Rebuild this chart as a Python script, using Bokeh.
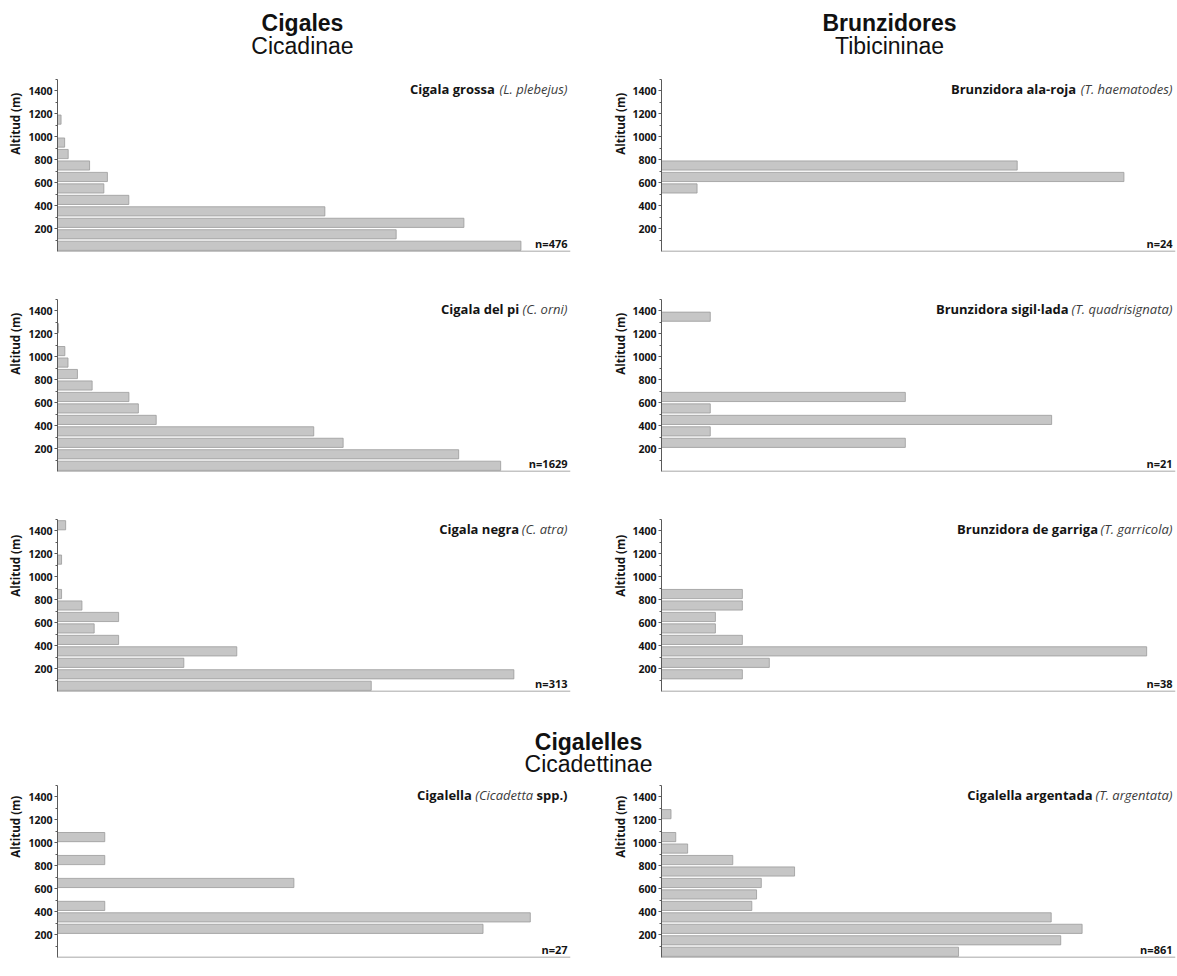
import math
from bokeh.plotting import figure
from bokeh.models import Range1d, FixedTicker, Label, Span, ColumnDataSource
from bokeh.layouts import column, row
from bokeh.embed import file_html
from bokeh.resources import INLINE

# ---------------- data: number of records per 100 m altitude band ----------------
band_lo = [0, 100, 200, 300, 400, 500, 600, 700, 800, 900, 1000, 1100, 1200, 1300, 1400]
major_ticks = [200, 400, 600, 800, 1000, 1200, 1400]
minor_ticks = [100, 300, 500, 700, 900, 1100, 1300, 1500]

cigala_grossa = [130, 95, 114, 75, 20, 13, 14, 9, 3, 2, 0, 1, 0, 0, 0]
cigala_del_pi = [422, 382, 272, 244, 94, 77, 68, 33, 19, 10, 7, 0, 1, 0, 0]
cigala_negra = [77, 112, 31, 44, 15, 9, 15, 6, 1, 0, 0, 1, 0, 0, 2]
brunz_ala_roja = [0, 0, 0, 0, 0, 1, 13, 10, 0, 0, 0, 0, 0, 0, 0]
brunz_sigillada = [0, 0, 5, 1, 8, 1, 5, 0, 0, 0, 0, 0, 0, 1, 0]
brunz_garriga = [0, 3, 4, 18, 3, 2, 2, 3, 3, 0, 0, 0, 0, 0, 0]
cigalella_spp = [0, 0, 9, 10, 1, 0, 5, 0, 1, 0, 1, 0, 0, 0, 0]
cigalella_argentada = [125, 168, 177, 164, 38, 40, 42, 56, 30, 11, 6, 0, 4, 0, 0]

group_titles = [("Cigales", "Cicadinae"), ("Brunzidores", "Tibicininae"), ("Cigalelles", "Cicadettinae")]
y_title = "Altitud (m)"

# ---------------- styles ----------------
FONT = "Open Sans"
TITLE_FONT = "Liberation Sans"
BAR_FILL = "#c6c6c6"
BAR_LINE = "#9a9a9a"
TXT = "#141414"
ITAL = "#3c3c3c"

REG_W = {' ': 0.26, '(': 0.295, ')': 0.295, '.': 0.266, '-': 0.32, 'a': 0.556, 'b': 0.613, 'c': 0.476,
         'd': 0.613, 'e': 0.561, 'f': 0.339, 'g': 0.548, 'h': 0.614, 'i': 0.253, 'j': 0.253, 'k': 0.525,
         'l': 0.253, 'm': 0.930, 'n': 0.614, 'o': 0.604, 'p': 0.613, 'q': 0.613, 'r': 0.408, 's': 0.477,
         't': 0.353, 'u': 0.614, 'v': 0.501, 'w': 0.778, 'x': 0.524, 'y': 0.502, 'z': 0.477,
         'C': 0.633, 'L': 0.519, 'T': 0.541}
BOLD_W = {' ': 0.26, '(': 0.34, ')': 0.34, '.': 0.29, 's': 0.513, 'p': 0.635}


def text_w(s, size, table, scale=1.0):
    return sum(table.get(c, 0.55) for c in s) * size * scale


SP_SIZE = 13
FRAME_H = 172
PX_PER_M = FRAME_H / 1500.0

LAB_W = {"L": 24, "R": 18}
LAB_X = {"L": 15, "R": 10}


def blank(w, h):
    f = figure(width=w, height=h, x_range=Range1d(0, w), y_range=Range1d(h, 0),
               output_backend="svg", toolbar_location=None, x_axis_location=None,
               y_axis_location=None, min_border=0)
    f.outline_line_color = None
    f.grid.visible = False
    f.background_fill_color = None
    f.border_fill_color = None
    return f


def ylabel_fig(side, fig_h, top_border):
    f = blank(LAB_W[side], fig_h)
    f.add_layout(Label(x=LAB_X[side], y=top_border + 1, text=y_title, angle=math.pi / 2,
                       text_align="right", text_baseline="middle", text_font=FONT,
                       text_font_style="bold", text_font_size="11.5px", text_color=TXT))
    return f


def panel(bold, italic, tail, counts, x_max, side, bottom_border, fig_h, top_border=16):
    left = side == "L"
    w = (610 if left else 567) - LAB_W[side]
    mbl = (57 if left else 51) - LAB_W[side]
    mbr = 40 if left else 2
    fw = w - mbl - mbr
    p = figure(width=w, height=fig_h, x_range=Range1d(0, x_max), y_range=Range1d(0, 1500),
               output_backend="svg", toolbar_location=None, x_axis_location=None,
               min_border_left=mbl, min_border_right=mbr, min_border_top=top_border,
               min_border_bottom=bottom_border)
    p.outline_line_color = None
    p.grid.visible = False
    p.background_fill_color = None
    p.border_fill_color = None

    ys = [lo + 50 for lo, c in zip(band_lo, counts) if c > 0]
    vals = [c for c in counts if c > 0]
    src = ColumnDataSource(dict(y=ys, right=vals))
    p.hbar(y="y", left=0, right="right", height=80, source=src,
           fill_color=BAR_FILL, line_color=BAR_LINE, line_width=0.8)

    ax = p.yaxis[0]
    ax.ticker = FixedTicker(ticks=major_ticks, minor_ticks=minor_ticks)
    ax.major_label_text_font = FONT
    ax.major_label_text_font_style = "bold"
    ax.major_label_text_font_size = "10.5px"
    ax.major_label_text_color = TXT
    ax.major_label_standoff = 2
    ax.major_tick_out = 3
    ax.major_tick_in = 0
    ax.minor_tick_out = 2
    ax.minor_tick_in = 0
    ax.axis_line_color = "#5a5a5a"
    ax.major_tick_line_color = "#5a5a5a"
    ax.minor_tick_line_color = "#5a5a5a"

    p.add_layout(Span(location=0, dimension="width", line_color="#8a8a8a", line_width=1.5))

    k = fw / x_max
    x_r = x_max - 3 / k
    y_t = 1500 - 9 / PX_PER_M
    cur = x_r
    if tail:
        t = tail.strip()
        p.add_layout(Label(x=cur, y=y_t, text=t, text_align="right", text_baseline="middle",
                           text_font=FONT, text_font_style="bold", text_font_size=f"{SP_SIZE}px",
                           text_color=TXT))
        cur -= (text_w(t, SP_SIZE, BOLD_W) + 0.24 * SP_SIZE) / k
    p.add_layout(Label(x=cur, y=y_t, text=italic, text_align="right", text_baseline="middle",
                       text_font=FONT, text_font_style="italic", text_font_size=f"{SP_SIZE}px",
                       text_color=ITAL))
    cur -= (text_w(italic, SP_SIZE, REG_W, 0.96) + 0.24 * SP_SIZE) / k
    p.add_layout(Label(x=cur, y=y_t, text=bold, text_align="right", text_baseline="middle",
                       text_font=FONT, text_font_style="bold", text_font_size=f"{SP_SIZE}px",
                       text_color=TXT))

    p.add_layout(Label(x=x_r, y=8 / PX_PER_M, text=f"n={sum(counts)}", text_align="right",
                       text_baseline="middle", text_font=FONT, text_font_style="bold",
                       text_font_size="11px", text_color=TXT))
    return [ylabel_fig(side, fig_h, top_border), p]


def header(h, items):
    f = blank(1177, h)
    for (x, y, txt, style) in items:
        f.add_layout(Label(x=x, y=y, text=txt, text_align="center", text_baseline="middle",
                           text_font=TITLE_FONT, text_font_style=style, text_font_size="23px",
                           text_color="#111111"))
    return f


hA = header(63, [(302, 22, group_titles[0][0], "bold"), (302, 45, group_titles[0][1], "normal"),
                 (889, 22, group_titles[1][0], "bold"), (889, 45, group_titles[1][1], "normal")])
hB = header(82, [(588, 48, group_titles[2][0], "bold"), (588, 70, group_titles[2][1], "normal")])

p1 = panel("Cigala grossa", "(L. plebejus)", None, cigala_grossa, 143.9, "L", 32, 220)
p2 = panel("Brunzidora ala-roja", "(T. haematodes)", None, brunz_ala_roja, 14.45, "R", 32, 220)
p3 = panel("Cigala del pi", "(C. orni)", None, cigala_del_pi, 488.5, "L", 32, 220)
p4 = panel("Brunzidora sigil·lada", "(T. quadrisignata)", None, brunz_sigillada, 10.54, "R", 32, 220)
p5 = panel("Cigala negra", "(C. atra)", None, cigala_negra, 125.9, "L", 2, 190)
p6 = panel("Brunzidora de garriga", "(T. garricola)", None, brunz_garriga, 19.07, "R", 2, 190)
p7 = panel("Cigalella", "(Cicadetta", " spp.)", cigalella_spp, 10.85, "L", 2, 184, top_border=10)
p8 = panel("Cigalella argentada", "(T. argentata)", None, cigalella_argentada, 216.3, "R", 2, 184,
           top_border=10)

layout = column(hA, row(*p1, *p2), row(*p3, *p4), row(*p5, *p6), hB, row(*p7, *p8))

open("out.html", "w").write(file_html(layout, INLINE))
